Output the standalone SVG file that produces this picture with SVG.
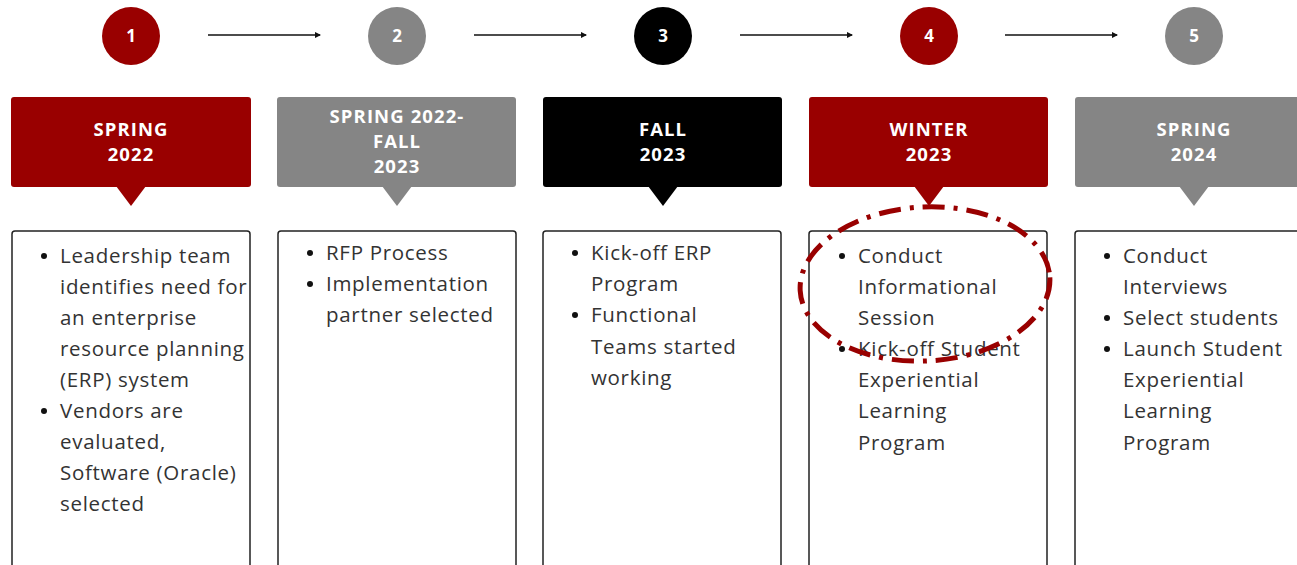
<svg xmlns="http://www.w3.org/2000/svg" width="1297" height="565" viewBox="0 0 1297 565">
<style>
.red{fill:#990000}.gray{fill:#858585}.blk{fill:#000}
.num{font-family:"Open Sans","Liberation Sans",sans-serif;font-weight:700;font-size:17px;fill:#fff;text-anchor:middle}
.hd{font-family:"Open Sans","Liberation Sans",sans-serif;font-weight:700;font-size:18.5px;fill:#fff;text-anchor:middle;letter-spacing:1.1px}
.card{fill:#fff;stroke:#222;stroke-width:1.5}
.tx{font-family:"Open Sans","Liberation Sans",sans-serif;font-size:20.5px;fill:#333;letter-spacing:0.7px}
.bul{fill:#111}
.conn{stroke:#111;stroke-width:1.3;fill:none}
</style>
<defs>
<marker id="ah" viewBox="0 0 6 6" refX="5" refY="3" markerWidth="5" markerHeight="5" orient="auto"><path d="M0,0 L6,3 L0,6 z" fill="#111"/></marker>
</defs>
<rect width="1297" height="565" fill="#fff"/>
<g id="connectors">
<line class="conn" x1="208" y1="35" x2="320" y2="35" marker-end="url(#ah)"/>
<line class="conn" x1="474" y1="35" x2="586" y2="35" marker-end="url(#ah)"/>
<line class="conn" x1="740" y1="35" x2="852" y2="35" marker-end="url(#ah)"/>
<line class="conn" x1="1005" y1="35" x2="1117" y2="35" marker-end="url(#ah)"/>
</g>
<g id="step1">
<circle class="red" cx="131" cy="36" r="29"/><text class="num" x="131" y="42">1</text>
<rect class="red" x="11" y="97" width="240" height="90" rx="3"/><path class="red" d="M116,186 L131,206 L146,186 z"/>
<text class="hd" x="131" y="136">SPRING</text><text class="hd" x="131" y="161">2022</text>
<rect class="card" x="12" y="231" width="238" height="340" rx="3"/>
<circle class="bul" cx="44" cy="256" r="3"/><circle class="bul" cx="44" cy="411" r="3"/>
<text class="tx" x="60"><tspan x="60" y="263">Leadership team</tspan><tspan x="60" y="294">identifies need for</tspan><tspan x="60" y="325">an enterprise</tspan><tspan x="60" y="356">resource planning</tspan><tspan x="60" y="387">(ERP) system</tspan><tspan x="60" y="418">Vendors are</tspan><tspan x="60" y="449">evaluated,</tspan><tspan x="60" y="480">Software (Oracle)</tspan><tspan x="60" y="511">selected</tspan></text>
</g>
<g id="step2">
<circle class="gray" cx="397" cy="36" r="29"/><text class="num" x="397" y="42">2</text>
<rect class="gray" x="277" y="97" width="239" height="90" rx="3"/><path class="gray" d="M382,186 L397,206 L412,186 z"/>
<text class="hd" x="397" y="123">SPRING 2022-</text><text class="hd" x="397" y="148">FALL</text><text class="hd" x="397" y="173">2023</text>
<rect class="card" x="278" y="231" width="238" height="340" rx="3"/>
<circle class="bul" cx="310" cy="253" r="3"/><circle class="bul" cx="310" cy="284" r="3"/>
<text class="tx"><tspan x="326" y="260">RFP Process</tspan><tspan x="326" y="291">Implementation</tspan><tspan x="326" y="322">partner selected</tspan></text>
</g>
<g id="step3">
<circle class="blk" cx="663" cy="36" r="29"/><text class="num" x="663" y="42">3</text>
<rect class="blk" x="543" y="97" width="239" height="90" rx="3"/><path class="blk" d="M648,186 L663,206 L678,186 z"/>
<text class="hd" x="663" y="136">FALL</text><text class="hd" x="663" y="161">2023</text>
<rect class="card" x="543" y="231" width="238" height="340" rx="3"/>
<circle class="bul" cx="575" cy="253" r="3"/><circle class="bul" cx="575" cy="315" r="3"/>
<text class="tx"><tspan x="591" y="260">Kick-off ERP</tspan><tspan x="591" y="291">Program</tspan><tspan x="591" y="322">Functional</tspan><tspan x="591" y="354">Teams started</tspan><tspan x="591" y="385">working</tspan></text>
</g>
<g id="step4">
<circle class="red" cx="929" cy="36" r="29"/><text class="num" x="929" y="42">4</text>
<rect class="red" x="809" y="97" width="239" height="90" rx="3"/><path class="red" d="M914,186 L929,206 L944,186 z"/>
<text class="hd" x="929" y="136">WINTER</text><text class="hd" x="929" y="161">2023</text>
<rect class="card" x="809" y="231" width="238" height="340" rx="3"/>
<circle class="bul" cx="842" cy="256" r="3"/><circle class="bul" cx="842" cy="349" r="3"/>
<text class="tx"><tspan x="858" y="263">Conduct</tspan><tspan x="858" y="294">Informational</tspan><tspan x="858" y="325">Session</tspan><tspan x="858" y="356">Kick-off Student</tspan><tspan x="858" y="387">Experiential</tspan><tspan x="858" y="418">Learning</tspan><tspan x="858" y="450">Program</tspan></text>
</g>
<g id="step5">
<circle class="gray" cx="1194" cy="36" r="29"/><text class="num" x="1194" y="42">5</text>
<rect class="gray" x="1075" y="97" width="240" height="90" rx="3"/><path class="gray" d="M1179,186 L1194,206 L1209,186 z"/>
<text class="hd" x="1194" y="136">SPRING</text><text class="hd" x="1194" y="161">2024</text>
<rect class="card" x="1075" y="231" width="238" height="340" rx="3"/>
<circle class="bul" cx="1107" cy="256" r="3"/><circle class="bul" cx="1107" cy="318" r="3"/><circle class="bul" cx="1107" cy="349" r="3"/>
<text class="tx"><tspan x="1123" y="263">Conduct</tspan><tspan x="1123" y="294">Interviews</tspan><tspan x="1123" y="325">Select students</tspan><tspan x="1123" y="356">Launch Student</tspan><tspan x="1123" y="387">Experiential</tspan><tspan x="1123" y="418">Learning</tspan><tspan x="1123" y="450">Program</tspan></text>
</g>
<g id="highlight">
<ellipse cx="925" cy="284" rx="125" ry="77" fill="none" stroke="#990000" stroke-width="5" stroke-dasharray="22 9 4 9" transform="rotate(-3 925 284)"/>
</g>
</svg>
